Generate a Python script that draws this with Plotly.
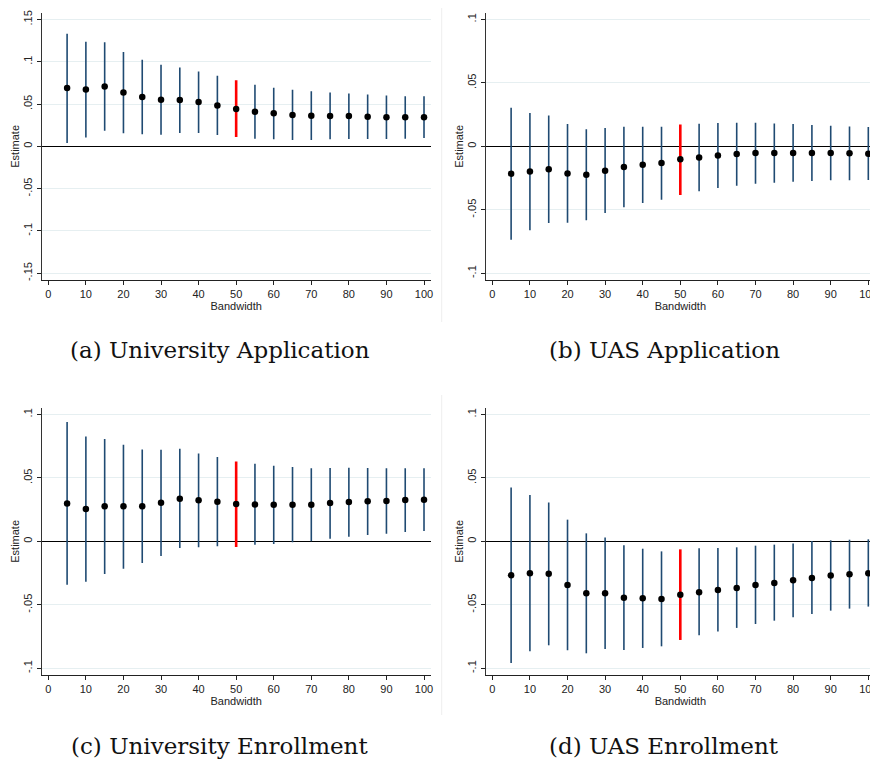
import plotly.graph_objects as go

# ---------------- data ----------------
bandwidth = [5, 10, 15, 20, 25, 30, 35, 40, 45, 50, 55, 60, 65, 70, 75, 80, 85, 90, 95, 100]
highlight_bw = 50

# (a) University Application
est_a = [0.0689, 0.0673, 0.0709, 0.0638, 0.0583, 0.0551, 0.0547, 0.0524, 0.0484, 0.0441,
         0.0409, 0.0390, 0.0370, 0.0362, 0.0358, 0.0358, 0.0350, 0.0343, 0.0343, 0.0343]
hi_a = [0.1331, 0.1236, 0.1232, 0.1114, 0.1024, 0.0965, 0.0933, 0.0886, 0.0835, 0.0780,
        0.0728, 0.0693, 0.0669, 0.0650, 0.0638, 0.0626, 0.0614, 0.0602, 0.0591, 0.0591]
lo_a = [0.0039, 0.0106, 0.0185, 0.0154, 0.0142, 0.0138, 0.0157, 0.0157, 0.0134, 0.0110,
        0.0091, 0.0083, 0.0075, 0.0075, 0.0083, 0.0087, 0.0087, 0.0087, 0.0091, 0.0098]

# (b) UAS Application
est_b = [-0.0215, -0.0199, -0.0181, -0.0213, -0.0223, -0.0192, -0.0163, -0.0144, -0.0131, -0.0102,
         -0.0087, -0.0073, -0.0060, -0.0052, -0.0052, -0.0052, -0.0052, -0.0052, -0.0055, -0.0058]
hi_b = [0.0304, 0.0262, 0.0244, 0.0176, 0.0134, 0.0144, 0.0155, 0.0155, 0.0155, 0.0173,
        0.0178, 0.0184, 0.0186, 0.0186, 0.0181, 0.0176, 0.0168, 0.0163, 0.0157, 0.0152]
lo_b = [-0.0735, -0.0661, -0.0604, -0.0601, -0.0583, -0.0525, -0.0480, -0.0446, -0.0420, -0.0383,
        -0.0354, -0.0328, -0.0310, -0.0294, -0.0286, -0.0278, -0.0273, -0.0268, -0.0268, -0.0265]

# (c) University Enrollment
est_c = [0.0299, 0.0255, 0.0276, 0.0276, 0.0276, 0.0304, 0.0336, 0.0323, 0.0312, 0.0294,
         0.0291, 0.0289, 0.0289, 0.0289, 0.0302, 0.0310, 0.0315, 0.0318, 0.0325, 0.0328]
hi_c = [0.0940, 0.0827, 0.0806, 0.0761, 0.0724, 0.0722, 0.0730, 0.0693, 0.0664, 0.0630,
        0.0612, 0.0596, 0.0585, 0.0575, 0.0577, 0.0580, 0.0577, 0.0575, 0.0575, 0.0575]
lo_c = [-0.0341, -0.0318, -0.0257, -0.0215, -0.0171, -0.0115, -0.0052, -0.0047, -0.0039, -0.0045,
        -0.0026, -0.0021, -0.0008, 0.0000, 0.0021, 0.0037, 0.0050, 0.0060, 0.0073, 0.0081]

# (d) UAS Enrollment
est_d = [-0.0268, -0.0252, -0.0255, -0.0344, -0.0409, -0.0409, -0.0444, -0.0449, -0.0454, -0.0420,
         -0.0402, -0.0383, -0.0367, -0.0344, -0.0328, -0.0307, -0.0289, -0.0270, -0.0260, -0.0252]
hi_d = [0.0425, 0.0365, 0.0307, 0.0171, 0.0063, 0.0031, -0.0031, -0.0058, -0.0079, -0.0063,
        -0.0055, -0.0052, -0.0047, -0.0034, -0.0026, -0.0016, 0.0003, 0.0008, 0.0013, 0.0016]
lo_d = [-0.0958, -0.0866, -0.0819, -0.0858, -0.0882, -0.0848, -0.0856, -0.0840, -0.0827, -0.0777,
        -0.0740, -0.0711, -0.0682, -0.0651, -0.0625, -0.0598, -0.0572, -0.0546, -0.0530, -0.0514]

captions = ["(a) University Application", "(b) UAS Application",
            "(c) University Enrollment", "(d) UAS Enrollment"]

ticks_wide = [-0.15, -0.1, -0.05, 0, 0.05, 0.1, 0.15]
ticks_wide_text = ["-.15", "-.1", "-.05", "0", ".05", ".1", ".15"]
ticks_narrow = [-0.1, -0.05, 0, 0.05, 0.1]
ticks_narrow_text = ["-.1", "-.05", "0", ".05", ".1"]
xticks = [0, 10, 20, 30, 40, 50, 60, 70, 80, 90, 100]

# ---------------- layout geometry (page pixels) ----------------
PAGE_W, PAGE_H = 878, 765
OFF = 8                       # default page body margin
W, H = PAGE_W - OFF, PAGE_H - OFF


def px_x(v):
    return (v - OFF) / W


def px_y(v):
    return 1 - (v - OFF) / H


panels = [
    dict(est=est_a, lo=lo_a, hi=hi_a, x0=41.7, x1=430.7, y0=12.7, y1=280.0,
         yr=[-0.158, 0.158], tv=ticks_wide, tt=ticks_wide_text, cap=(220, 350)),
    dict(est=est_b, lo=lo_b, hi=hi_b, x0=485.7, x1=875.0, y0=12.7, y1=280.0,
         yr=[-0.1053, 0.1053], tv=ticks_narrow, tt=ticks_narrow_text, cap=(664, 350)),
    dict(est=est_c, lo=lo_c, hi=hi_c, x0=41.7, x1=430.7, y0=407.7, y1=675.0,
         yr=[-0.1053, 0.1053], tv=ticks_narrow, tt=ticks_narrow_text, cap=(219, 746)),
    dict(est=est_d, lo=lo_d, hi=hi_d, x0=485.7, x1=875.0, y0=407.7, y1=675.0,
         yr=[-0.1053, 0.1053], tv=ticks_narrow, tt=ticks_narrow_text, cap=(664, 746)),
]

NAVY = "#1f4a72"
RED = "#ff0000"
GRID = "#e6eff1"
AXFONT = dict(family="Liberation Sans, Arial, sans-serif", size=11, color="#222222")

fig = go.Figure()
annotations = []
shapes = []

for i, p in enumerate(panels):
    sfx = "" if i == 0 else str(i + 1)
    xa, ya = "x" + sfx, "y" + sfx
    xs, ys = [], []
    hx, hy = [], []
    for b, lo, hi in zip(bandwidth, p["lo"], p["hi"]):
        if b == highlight_bw:
            hx += [b, b, None]
            hy += [lo, hi, None]
        else:
            xs += [b, b, None]
            ys += [lo, hi, None]
    fig.add_trace(go.Scatter(x=xs, y=ys, mode="lines", line=dict(color=NAVY, width=1.6),
                             xaxis=xa, yaxis=ya, showlegend=False, hoverinfo="skip",
                             cliponaxis=False))
    fig.add_trace(go.Scatter(x=hx, y=hy, mode="lines", line=dict(color=RED, width=2.6),
                             xaxis=xa, yaxis=ya, showlegend=False, hoverinfo="skip"))
    fig.add_trace(go.Scatter(x=bandwidth, y=p["est"], mode="markers",
                             marker=dict(color="black", size=6.5),
                             xaxis=xa, yaxis=ya, showlegend=False, cliponaxis=False))

    xdom = [px_x(p["x0"]), px_x(p["x1"])]
    ydom = [px_y(p["y1"]), px_y(p["y0"])]
    fig.update_layout(**{
        "xaxis" + sfx: dict(
            domain=xdom, anchor=ya, range=[-1.76, 101.78], automargin=False,
            tickvals=xticks, ticks="outside", ticklen=4, tickwidth=1, tickcolor="#222",
            showline=True, linecolor="#222", linewidth=1.2, showgrid=False, zeroline=False,
            tickfont=AXFONT, title=dict(text="Bandwidth", font=AXFONT, standoff=1),
        ),
        "yaxis" + sfx: dict(
            domain=ydom, anchor=xa, range=p["yr"], automargin=False,
            tickvals=p["tv"], ticktext=p["tt"], tickangle=-90,
            ticks="outside", ticklen=4, tickwidth=1, tickcolor="#222",
            showline=True, linecolor="#333", linewidth=1.2,
            showgrid=True, gridcolor=GRID, gridwidth=1,
            zeroline=True, zerolinecolor="black", zerolinewidth=1.2,
            tickfont=AXFONT, title=dict(text="Estimate", font=AXFONT, standoff=0),
        ),
    })
    annotations.append(dict(
        text=captions[i], x=px_x(p["cap"][0]), y=px_y(p["cap"][1]),
        xref="paper", yref="paper", showarrow=False, xanchor="center", yanchor="middle",
        font=dict(family="DejaVu Serif, Liberation Serif, serif", size=23, color="#111111"),
    ))

# faint separators between columns
for (ya0, ya1) in [(8, 322), (395, 715)]:
    shapes.append(dict(type="line", xref="paper", yref="paper",
                       x0=px_x(441.7), x1=px_x(441.7), y0=px_y(ya1), y1=px_y(ya0),
                       line=dict(color="#eeeeee", width=1)))

fig.update_layout(
    width=W, height=H, margin=dict(l=0, r=0, t=0, b=0, autoexpand=False),
    paper_bgcolor="white", plot_bgcolor="white",
    annotations=annotations, shapes=shapes, showlegend=False,
)

fig.write_html("out.html")
